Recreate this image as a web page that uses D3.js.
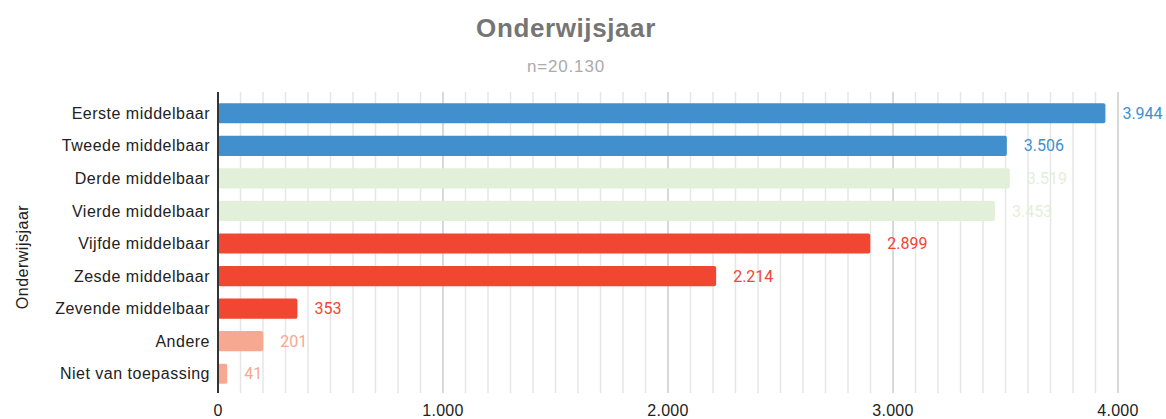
<!DOCTYPE html>
<html>
<head>
<meta charset="utf-8">
<script src="https://cdn.jsdelivr.net/npm/d3@7"></script>
<style>
  body { margin: 0; background: #fff; }
</style>
</head>
<body>
<svg id="chart" width="1166" height="419"></svg>
<script>
const categories = ["Eerste middelbaar", "Tweede middelbaar", "Derde middelbaar", "Vierde middelbaar",
    "Vijfde middelbaar", "Zesde middelbaar", "Zevende middelbaar", "Andere", "Niet van toepassing"];
const values = [3944, 3506, 3519, 3453, 2899, 2214, 353, 201, 41];
const groups = ["blue", "blue", "green", "green", "red", "red", "red", "salmon", "salmon"];
const xTicks = [0, 1000, 2000, 3000, 4000];

const width = 1166;
const height = 419;
const margin = { top: 92, right: 48, bottom: 26, left: 218 };

const color = d3.scaleOrdinal()
    .domain(["blue", "green", "red", "salmon"])
    .range(["#418fcd", "#e2efd9", "#f04632", "#f7a891"]);

const fmt = d3.formatLocale({ decimal: ",", thousands: ".", grouping: [3], currency: ["€", ""] }).format(",d");

const x = d3.scaleLinear()
    .domain([0, 4000])
    .range([margin.left, margin.left + 900]);

const y = d3.scaleBand()
    .domain(categories)
    .range([97, 390])
    .paddingInner(0.38)
    .paddingOuter(0.19);

const svg = d3.select("#chart");
const labelFont = "16px 'Liberation Sans', Arial, sans-serif";

// title
svg.append("text")
    .attr("x", 566).attr("y", 37)
    .attr("text-anchor", "middle")
    .style("font", "bold 26px 'Liberation Sans', Arial, sans-serif")
    .style("letter-spacing", "0.6px")
    .attr("fill", "#757575")
    .text("Onderwijsjaar");

svg.append("text")
    .attr("x", 566).attr("y", 72)
    .attr("text-anchor", "middle")
    .style("font", "17px 'Liberation Sans', Arial, sans-serif")
    .style("letter-spacing", "0.8px")
    .attr("fill", "#ababab")
    .text("n=20.130");

// grid
const minor = d3.range(100, 4001, 100).filter(d => d % 1000 !== 0);
svg.append("g")
    .selectAll("line")
    .data(minor)
    .join("line")
    .attr("x1", x).attr("x2", x)
    .attr("y1", margin.top).attr("y2", 393)
    .attr("stroke", "#e6e6e6")
    .attr("stroke-width", 1.5);

svg.append("g")
    .selectAll("line")
    .data(xTicks.slice(1))
    .join("line")
    .attr("x1", x).attr("x2", x)
    .attr("y1", margin.top).attr("y2", 393)
    .attr("stroke", "#cccccc")
    .attr("stroke-width", 1.5);

// x tick labels
svg.append("g")
    .selectAll("text")
    .data(xTicks)
    .join("text")
    .attr("x", x)
    .attr("y", 416)
    .attr("text-anchor", "middle")
    .style("font", labelFont)
    .style("letter-spacing", "0.3px")
    .attr("fill", "#222")
    .text(d => fmt(d));

// bars
svg.append("g")
    .selectAll("rect")
    .data(values)
    .join("rect")
    .attr("x", x(0))
    .attr("y", (d, i) => y(categories[i]))
    .attr("width", d => x(d) - x(0))
    .attr("height", y.bandwidth())
    .attr("rx", 2)
    .attr("fill", (d, i) => color(groups[i]));

// value labels
svg.append("g")
    .selectAll("text")
    .data(values)
    .join("text")
    .attr("x", d => x(d) + 17)
    .attr("y", (d, i) => y(categories[i]) + y.bandwidth() / 2)
    .attr("dy", "0.35em")
    .style("font", "16px Roboto, sans-serif")
    .attr("fill", (d, i) => color(groups[i]))
    .text(d => fmt(d));

// category labels
svg.append("g")
    .selectAll("text")
    .data(categories)
    .join("text")
    .attr("x", margin.left - 8)
    .attr("y", d => y(d) + y.bandwidth() / 2)
    .attr("dy", "0.35em")
    .attr("text-anchor", "end")
    .style("font", labelFont)
    .style("letter-spacing", "0.5px")
    .attr("fill", "#222")
    .text(d => d);

// axis line
svg.append("line")
    .attr("x1", x(0)).attr("x2", x(0))
    .attr("y1", margin.top).attr("y2", 393)
    .attr("stroke", "#333")
    .attr("stroke-width", 2);

// y axis title
svg.append("text")
    .attr("transform", "translate(28,257) rotate(-90)")
    .attr("text-anchor", "middle")
    .style("font", labelFont)
    .style("letter-spacing", "0.5px")
    .attr("fill", "#222")
    .text("Onderwijsjaar");
</script>
</body>
</html>
